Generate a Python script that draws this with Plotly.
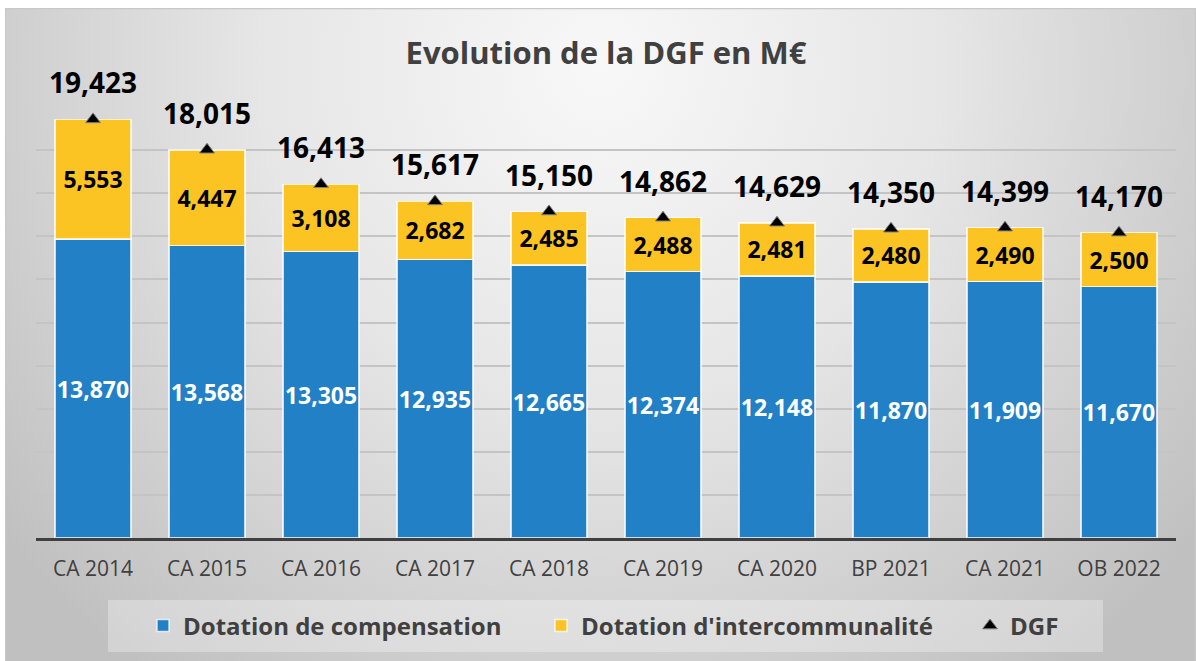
import base64
import plotly.graph_objects as go

categories = ["CA 2014", "CA 2015", "CA 2016", "CA 2017", "CA 2018",
              "CA 2019", "CA 2020", "BP 2021", "CA 2021", "OB 2022"]
compensation = [13.870, 13.568, 13.305, 12.935, 12.665, 12.374, 12.148, 11.870, 11.909, 11.670]
intercommunalite = [5.553, 4.447, 3.108, 2.682, 2.485, 2.488, 2.481, 2.480, 2.490, 2.500]
dgf = [19.423, 18.015, 16.413, 15.617, 15.150, 14.862, 14.629, 14.350, 14.399, 14.170]

FONT = "Open Sans"
BLUE = "#2180C6"
YELLOW = "#FBC423"

W, H = 1196, 661
L, R, T, B = 36, 20, 107, 123
PW, PH = W - L - R, H - T - B


def px_x(p):
    return (p - L) / PW


def px_y(p):
    return (H - B - p) / PH


# radial-gradient chart-area background (as an SVG image)
bw, bh = 1191, 653
svg = f'''<svg xmlns="http://www.w3.org/2000/svg" width="{bw}" height="{bh}" viewBox="0 0 {bw} {bh}" preserveAspectRatio="none">
<defs><radialGradient id="g" gradientUnits="userSpaceOnUse" cx="{bw/2}" cy="60" r="760">
<stop offset="0" stop-color="#f8f8f8"/><stop offset="0.45" stop-color="#e6e6e6"/><stop offset="1" stop-color="#c0c0c0"/>
</radialGradient></defs>
<rect x="0" y="0" width="{bw}" height="{bh}" fill="url(#g)"/>
<rect x="0.5" y="0.5" width="{bw-1}" height="{bh+5}" fill="none" stroke="#c8c8c8" stroke-width="1.5"/>
</svg>'''
src = "data:image/svg+xml;base64," + base64.b64encode(svg.encode()).decode()

fig = go.Figure()
fig.add_trace(go.Bar(
    x=categories, y=compensation, name="Dotation de compensation", legend="legend",
    marker=dict(color=BLUE, line=dict(color="rgba(255,255,255,0.75)", width=1.5)),
    texttemplate="%{y:,.3f}", textposition="inside", insidetextanchor="middle", textangle=0,
    textfont=dict(family=FONT, size=23, color="white", weight="bold"),
    constraintext="none",
))
fig.add_trace(go.Bar(
    x=categories, y=intercommunalite, name="Dotation d'intercommunalité", legend="legend2",
    marker=dict(color=YELLOW, line=dict(color="rgba(255,255,255,0.75)", width=1.5)),
    texttemplate="%{y:,.3f}", textposition="inside", insidetextanchor="middle", textangle=0,
    textfont=dict(family=FONT, size=23, color="black", weight="bold"),
    constraintext="none",
))
fig.add_trace(go.Scatter(
    x=categories, y=dgf, name="DGF", mode="markers", legend="legend3",
    marker=dict(symbol="triangle-up", size=13, color="black", line=dict(color="#808080", width=1)),
    cliponaxis=False,
))

for c, v in zip(categories, dgf):
    fig.add_annotation(x=c, y=v, text=f"{v:.3f}".replace(".", ","),
                       showarrow=False, yanchor="bottom", yshift=16,
                       font=dict(family=FONT, size=28, color="black", weight="bold"))

fig.add_layout_image(dict(
    source=src, xref="paper", yref="paper",
    x=px_x(5), y=px_y(8),
    sizex=bw / PW, sizey=bh / PH,
    xanchor="left", yanchor="top", sizing="stretch", layer="below",
))

# legend background box
fig.add_shape(type="rect", xref="paper", yref="paper",
              x0=px_x(108), x1=px_x(1103), y0=px_y(652), y1=px_y(600),
              fillcolor="rgba(255,255,255,0.3)", line=dict(width=0), layer="below")

legend_font = dict(family=FONT, size=24, color="#404040", weight="bold")


def leg(xpix):
    return dict(orientation="h", x=px_x(xpix), xanchor="left", y=px_y(626), yanchor="middle",
                bgcolor="rgba(0,0,0,0)", font=legend_font)


fig.update_layout(
    width=W, height=H,
    margin=dict(l=L, r=R, t=T, b=B, autoexpand=False),
    paper_bgcolor="white", plot_bgcolor="rgba(0,0,0,0)",
    barmode="stack", bargap=0.33,
    separators=",.",
    title=dict(text="Evolution de la DGF en M€", x=0.5, xref="paper", xanchor="center",
               y=1 - 53 / H, yanchor="middle",
               font=dict(family=FONT, size=31, color="#404040", weight="bold")),
    font=dict(family=FONT),
    showlegend=True,
    legend=leg(185 - 42),
    legend2=leg(583 - 42),
    legend3=leg(1012 - 42),
    xaxis=dict(showline=True, linecolor="#404040", linewidth=3, ticks="",
               range=[-0.5, len(categories) - 0.5],
               ticklabelstandoff=10,
               tickfont=dict(family=FONT, size=21, color="#404040"), showgrid=False),
    yaxis=dict(range=[0, 20], dtick=2, showticklabels=False, showgrid=True,
               gridcolor="#c4c4c4", gridwidth=1.5, zeroline=False),
)

fig.write_html("out.html", config={"displayModeBar": False},
               post_script="document.body.style.margin='0px';")
